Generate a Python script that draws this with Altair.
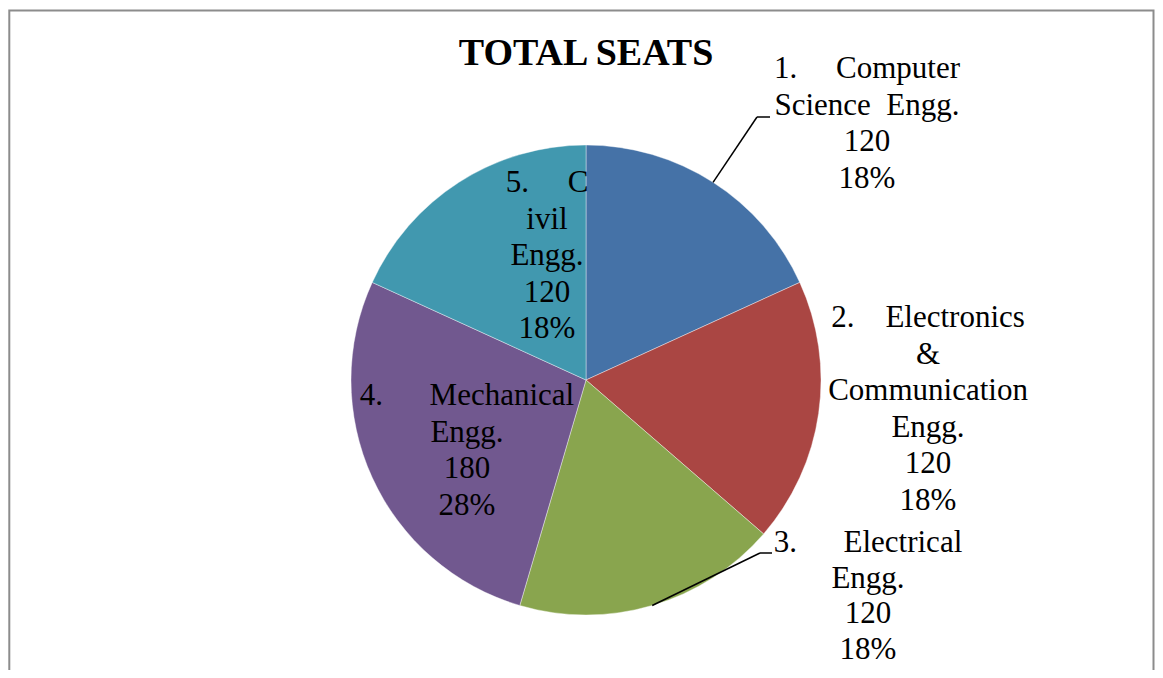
import math
import altair as alt
import pandas as pd

# ---- data ----
departments = ["Computer Science Engg.", "Electronics & Communication Engg.",
               "Electrical Engg.", "Mechanical Engg.", "Civil Engg."]
seats = [120, 120, 120, 180, 120]
percents = ["18%", "18%", "18%", "28%", "18%"]
colors = ["#4572A7", "#AA4643", "#89A54E", "#71588F", "#4198AF"]

NB = "\u00a0"
label_lines = [
    ["1." + NB * 5 + "Computer", "Science" + NB * 2 + "Engg."],
    ["2." + NB * 4 + "Electronics", "&", "Communication", "Engg."],
    ["3." + NB * 6 + "Electrical", "Engg."],
    ["4." + NB * 6 + "Mechanical", "Engg."],
    ["5." + NB * 5 + "C", "ivil", "Engg."],
]

# ---- layout (pixels, chart coordinates) ----
W, H = 1147, 662
CX, CY, R = 578, 372, 235
FONT = "Liberation Serif"
FS = 31
label_pos = [(859, 70), (920, 319), (860, 544), (459, 397), (539, 184)]
label_lh = [36.5, 36.5, 35.5, 36.5, 36.5]

df = pd.DataFrame({"dept": departments, "seats": seats, "idx": list(range(len(seats)))})

pie = alt.Chart(df).mark_arc(outerRadius=R, stroke="#ffffff", strokeWidth=0.4).encode(
    theta=alt.Theta("seats:Q", stack=True),
    color=alt.Color("dept:N", scale=alt.Scale(domain=departments, range=colors), legend=None),
    order=alt.Order("idx:Q"),
    x=alt.value(CX),
    y=alt.value(CY),
)

layers = [pie]

# labels
for i, (lines, (lx, ly)) in enumerate(zip(label_lines, label_pos)):
    txt = "\n".join(lines + [str(seats[i]), percents[i]])
    layers.append(
        alt.Chart(pd.DataFrame({"t": [txt]})).mark_text(
            font=FONT, fontSize=FS, align="center", baseline="alphabetic",
            lineBreak="\n", lineHeight=label_lh[i], color="#000000",
        ).encode(text="t:N", x=alt.value(lx), y=alt.value(ly))
    )

# leader lines for slices 1 and 3, starting at slice mid-angle on the rim
total = sum(seats)
cum = 0
mids = []
for s in seats:
    mids.append((cum + s / 2) / total * 2 * math.pi)
    cum += s

leaders = {0: (749, 109, 762), 2: (752, 545, 764)}
for i, (ex, ey, hx) in leaders.items():
    sx = CX + R * math.sin(mids[i])
    sy = CY - R * math.cos(mids[i])
    layers.append(
        alt.Chart(pd.DataFrame({"a": [0]})).mark_rule(color="#000000", strokeWidth=1.5).encode(
            x=alt.value(sx), y=alt.value(sy), x2=alt.value(ex), y2=alt.value(ey))
    )
    layers.append(
        alt.Chart(pd.DataFrame({"a": [0]})).mark_rule(color="#000000", strokeWidth=1.5).encode(
            x=alt.value(ex), y=alt.value(ey), x2=alt.value(hx), y2=alt.value(ey))
    )

# title
layers.append(
    alt.Chart(pd.DataFrame({"t": ["TOTAL SEATS"]})).mark_text(
        font=FONT, fontSize=38, fontWeight="bold", align="center", baseline="alphabetic",
        color="#000000",
    ).encode(text="t:N", x=alt.value(578), y=alt.value(57))
)

# frame
layers.append(
    alt.Chart(pd.DataFrame({"a": [0]})).mark_rect(
        fillOpacity=0, stroke="#8c8c8c", strokeWidth=2
    ).encode(x=alt.value(1.3), x2=alt.value(1145.5), y=alt.value(2.5), y2=alt.value(720))
)

chart = alt.layer(*layers).properties(
    width=W, height=H, autosize=alt.AutoSizeParams(type="none"), padding=0,
    background="#ffffff",
).configure_view(stroke=None)

chart.save("out.html", embed_options={"renderer": "svg", "actions": False})
